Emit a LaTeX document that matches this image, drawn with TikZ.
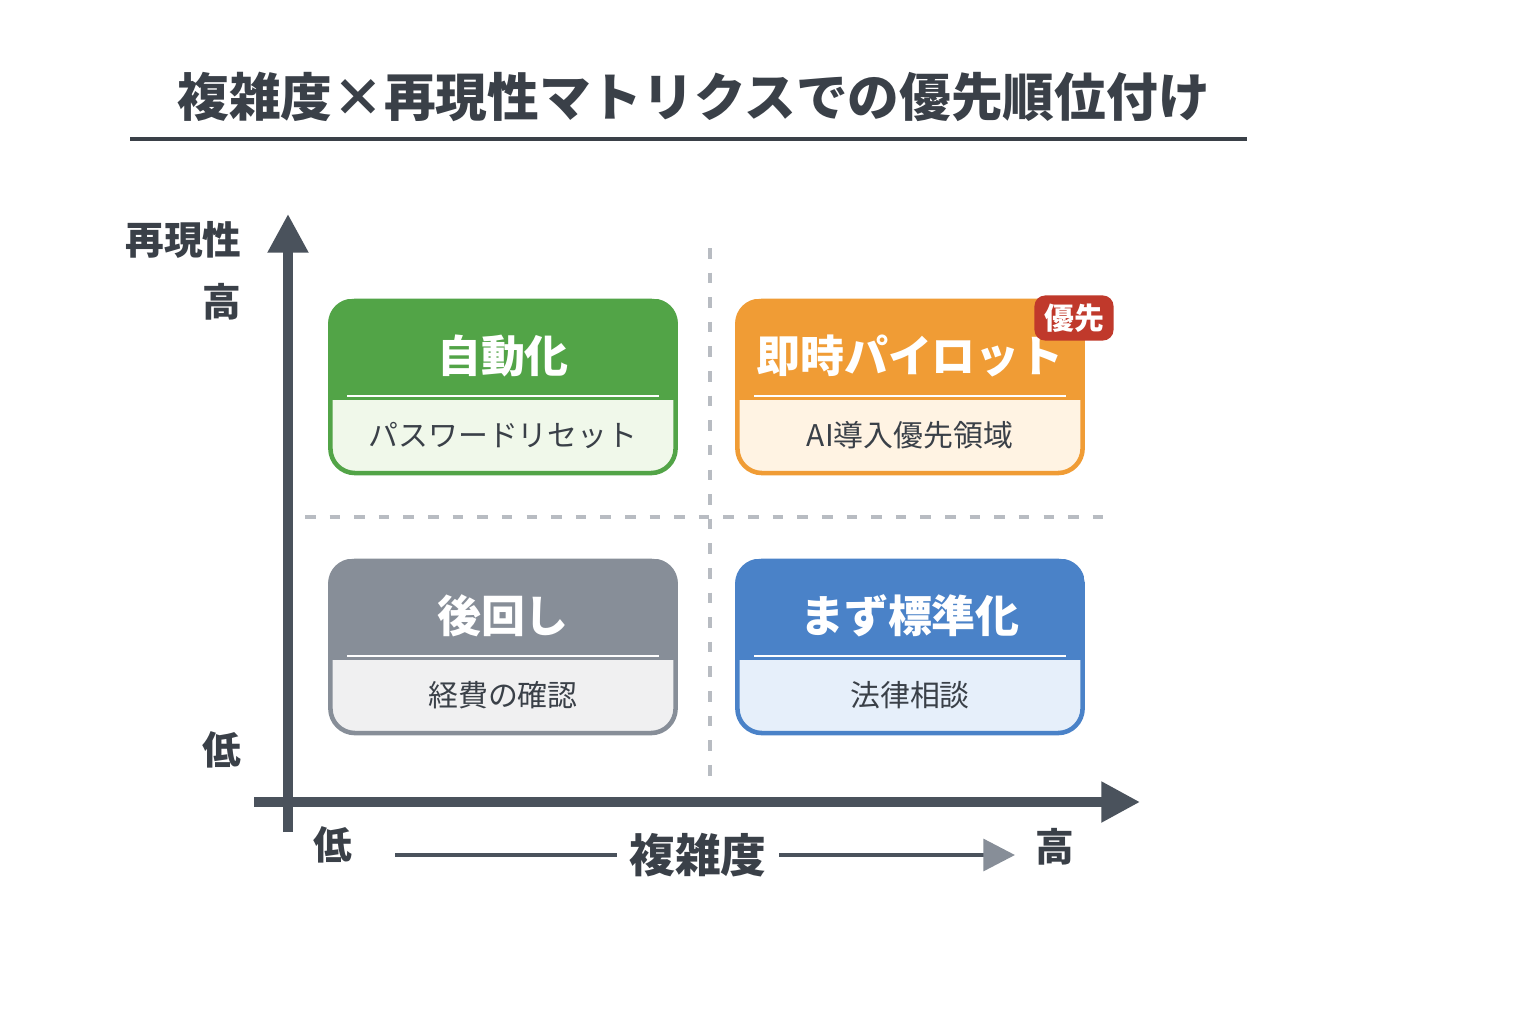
\documentclass[tikz,border=0pt]{standalone}
\usepackage{fontspec}
\setmainfont{Noto Sans CJK JP}
\usepackage{xcolor}
\definecolor{mainDark}{HTML}{3A4048}
\definecolor{axisDark}{HTML}{4A525C}
\definecolor{dashGray}{HTML}{B8BCC2}
\definecolor{autoGreen}{HTML}{52A447}
\definecolor{autoLight}{HTML}{F0F8EA}
\definecolor{pilotOrange}{HTML}{F09C35}
\definecolor{pilotLight}{HTML}{FFF3E3}
\definecolor{laterGray}{HTML}{878E98}
\definecolor{laterLight}{HTML}{F0F0F1}
\definecolor{stdBlue}{HTML}{4A82C8}
\definecolor{stdLight}{HTML}{E6EFFA}
\definecolor{badgeRed}{HTML}{C0392B}
\usetikzlibrary{positioning,calc,arrows.meta}
\tikzset{%
  quadBox/.style={%
    rectangle,
    rounded corners=7pt,
    line width=1.3pt,
    minimum width=3.45cm,
    minimum height=1.72cm,
    inner sep=0pt
  },
  headText/.style={%
    font=\fontsize{12.5}{14}\selectfont\bfseries,
    text=white
  },
  subText/.style={%
    font=\fontsize{8.5}{10}\selectfont,
    text=mainDark
  },
  axisText/.style={%
    font=\fontsize{11}{13}\selectfont\bfseries,
    text=mainDark
  },
  axisLine/.style={%
    line width=2.6pt,
    color=axisDark,
    -{Triangle[length=11pt,width=11pt]}
  },
  gridLine/.style={%
    dashed,
    dash pattern=on 3pt off 4pt,
    line width=1pt,
    color=dashGray
  }
}
% one quadrant: name, centre, main colour, light colour, header, sub text
\newcommand{\quadrant}[7]{%
  \node[quadBox, fill=#5] (#1) at (#2,#3) {};
  \begin{scope}
    \clip[rounded corners=7pt] (#1.south west) rectangle (#1.north east);
    \fill[#4] (#1.north west) rectangle ($(#1.east)+(0,13)$);
  \end{scope}
  \node[quadBox, draw=#4] at (#1) {};
  \draw[white, line width=0.8pt] ($(#1.west)+(19,9)$) -- ($(#1.east)+(-19,9)$);
  \node[headText] (#1Head) at ($(#1.north)+(0,57)$) {#6};
  \node[subText] (#1Sub) at ($(#1.south)+(0,-40)$) {#7};
}

\begin{document}
\begin{tikzpicture}[x=0.01cm, y=-0.01cm]
  \useasboundingbox[fill=white] (0,0) rectangle (1536,1024);

  % title
  \node[font=\fontsize{14.7}{17}\selectfont\bfseries, text=mainDark, anchor=west] (title) at (165,97) {複雑度×再現性マトリクスでの優先順位付け};
  \draw[mainDark, line width=1.2pt] (130,139) -- (1247,139);

  % grid
  \draw[gridLine] (710,248) -- (710,780);
  \draw[gridLine] (305,517) -- (1112,517);

  % quadrants
  \quadrant{auto}{503}{387}{autoGreen}{autoLight}{自動化}{パスワードリセット}
  \quadrant{pilot}{910}{387}{pilotOrange}{pilotLight}{即時パイロット}{AI導入優先領域}
  \quadrant{later}{503}{647}{laterGray}{laterLight}{後回し}{経費の確認}
  \quadrant{std}{910}{647}{stdBlue}{stdLight}{まず標準化}{法律相談}

  \node[fill=badgeRed, rounded corners=3pt, minimum width=0.79cm, minimum height=0.45cm,
        font=\fontsize{8.5}{10}\selectfont\bfseries, text=white, inner sep=0pt] (badge) at (1074,318) {優先};

  % axes
  \coordinate (yBase) at (288,832);
  \coordinate (yTip) at (288,214);
  \coordinate (xBase) at (254,802);
  \coordinate (xTip) at (1140,802);
  \draw[axisLine] (yBase) -- (yTip);
  \draw[axisLine] (xBase) -- (xTip);

  % axis labels
  \node[axisText, anchor=east] (yName) at (254,240) {再現性};
  \node[axisText, anchor=east] (yHigh) at (254,302) {高};
  \node[axisText, anchor=east] (yLow) at (254,750) {低};
  \node[axisText] (xLow) at (333,845) {低};
  \node[axisText, font=\fontsize{13}{15}\selectfont\bfseries] (xName) at (698,855) {複雑度};
  \node[axisText] (xHigh) at (1055,847) {高};
  \draw[axisDark, line width=1.2pt] (395,855) -- (xName.west);
  \draw[axisDark, line width=1.2pt, -{Triangle[length=9pt,width=9pt,fill=laterGray,color=laterGray]}] (xName.east) -- (1015,855);
\end{tikzpicture}
\end{document}
